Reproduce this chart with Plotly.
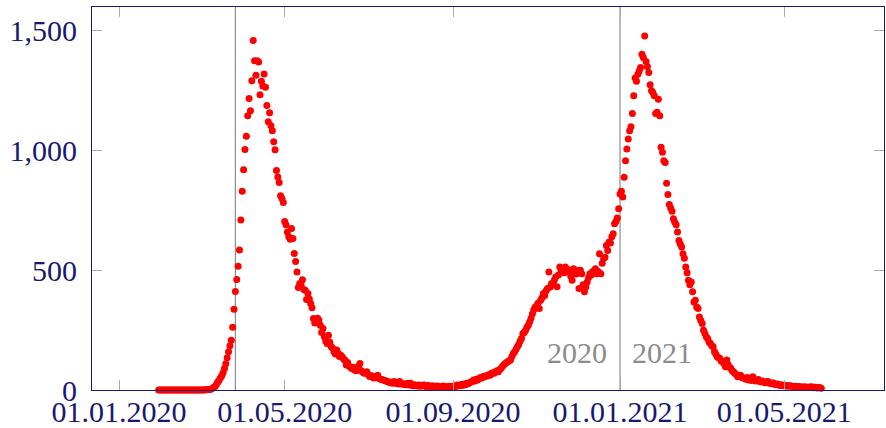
import pandas as pd
import plotly.graph_objects as go

# ---------------- data (daily values) ----------------
start_date = "2020-01-30"

jan_2020 = [0, 0]
feb_2020 = [0] * 29
mar_2020 = [0, 0, 0, 1, 1, 2, 2, 3, 6, 10, 15, 22, 32, 40, 50, 60, 72, 90, 110, 135,
            160, 185, 208, 262, 337, 412, 462, 517, 585, 710, 830]
apr_2020 = [920, 1005, 1060, 1146, 1218, 1167, 1292, 1460, 1375, 1315, 1375, 1370, 1233,
            1290, 1270, 1320, 1265, 1188, 1121, 1158, 1104, 1083, 1037, 1004, 917, 890,
            867, 812, 800, 783]
may_2020 = [704, 690, 660, 640, 630, 675, 633, 570, 537, 493, 428, 445, 440, 461, 420,
            417, 378, 403, 380, 361, 344, 299, 280, 295, 300, 292, 270, 240, 257, 222, 205]
jun_2020 = [194, 229, 200, 181, 175, 160, 150, 167, 155, 140, 145, 139, 130, 125, 104,
            115, 100, 95, 90, 95, 85, 80, 83, 100, 111, 80, 75, 70, 72, 76]
jul_2020 = [65, 56, 60, 58, 50, 55, 52, 62, 48, 45, 44, 42, 40, 38, 35, 33, 30, 32, 28,
            35, 30, 27, 25, 35, 28, 24, 26, 22, 25, 28, 21]
aug_2020 = [28, 20, 18, 22, 19, 17, 21, 16, 18, 20, 21, 15, 17, 19, 14, 16, 18, 15, 13,
            17, 16, 14, 12, 15, 17, 13, 11, 14, 16, 12, 15]
sep_2020 = [14, 17, 15, 21, 18, 20, 23, 19, 25, 22, 28, 26, 30, 33, 36, 42, 38, 45, 42,
            48, 52, 50, 56, 55, 60, 58, 64, 62, 69, 72]
oct_2020 = [70, 75, 80, 76, 85, 90, 98, 104, 110, 115, 118, 122, 125, 140, 152, 160, 170,
            181, 190, 205, 215, 236, 240, 250, 262, 270, 285, 300, 319, 335, 347]
nov_2020 = [350, 362, 340, 375, 385, 403, 395, 415, 424, 493, 430, 445, 440, 460, 472,
            431, 480, 514, 500, 505, 490, 514, 505, 493, 500, 475, 458, 507, 495, 485]
dec_2020 = [500, 424, 500, 486, 440, 410, 430, 451, 470, 486, 480, 495, 490, 507, 486,
            495, 569, 486, 530, 549, 555, 604, 583, 618, 614, 640, 653, 694, 705, 719, 757]
jan_2021 = [819, 830, 806, 889, 958, 1007, 1049, 1083, 1100, 1155, 1229, 1303, 1290, 1319,
            1333, 1347, 1403, 1389, 1479, 1372, 1350, 1326, 1275, 1250, 1243, 1229, 1155,
            1160, 1215, 1146, 1014]
feb_2021 = [993, 958, 950, 864, 817, 775, 760, 747, 715, 701, 690, 660, 625, 610, 597,
            569, 550, 514, 490, 458, 440, 451, 410, 368, 375, 347, 340, 305]
mar_2021 = [290, 278, 250, 236, 222, 215, 201, 194, 185, 181, 160, 150, 139, 135, 132,
            120, 118, 110, 97, 125, 105, 95, 90, 80, 75, 69, 65, 55, 60, 62, 52]
apr_2021 = [50, 49, 45, 52, 42, 46, 40, 55, 43, 38, 41, 44, 36, 34, 38, 32, 30, 34, 35,
            28, 30, 26, 29, 24, 22, 25, 21, 19, 22, 18]
may_2021 = [20, 17, 19, 16, 18, 17, 15, 14, 16, 13, 15, 12, 14, 13, 11, 14, 12, 10, 13,
            11, 14, 9, 12, 10, 8, 11, 9, 7]

values = (jan_2020 + feb_2020 + mar_2020 + apr_2020 + may_2020 + jun_2020 + jul_2020
          + aug_2020 + sep_2020 + oct_2020 + nov_2020 + dec_2020 + jan_2021 + feb_2021
          + mar_2021 + apr_2021 + may_2021)
dates = pd.date_range(start_date, periods=len(values), freq="D")

x_tick_dates = ["2020-01-01", "2020-05-01", "2020-09-01", "2021-01-01", "2021-05-01"]
x_tick_labels = ["01.01.2020", "01.05.2020", "01.09.2020", "01.01.2021", "01.05.2021"]
y_tick_vals = [0, 500, 1000, 1500]
y_tick_labels = ["0", "500", "1,000", "1,500"]

marker_lines = ["2020-03-26", "2021-01-01"]
year_labels = ["2020", "2021"]

# ---------------- figure ----------------
NAVY = "#191970"
GRAY = "#8c8c8c"
FONT = "Liberation Serif"
FS = 30

fig = go.Figure()
fig.add_trace(go.Scatter(
    x=dates, y=values, mode="markers",
    marker=dict(color="#ff0000", size=7, line=dict(width=0)),
    cliponaxis=False, showlegend=False,
))

for d in marker_lines:
    fig.add_shape(type="line", xref="x", yref="paper", x0=d, x1=d, y0=0, y1=1,
                  line=dict(color=GRAY, width=1.2), layer="below")

fig.add_annotation(x=marker_lines[1], y=155, xref="x", yref="y", text=year_labels[0],
                   showarrow=False, xanchor="right", yanchor="middle", xshift=-11,
                   font=dict(family=FONT, size=FS, color=GRAY))
fig.add_annotation(x=marker_lines[1], y=155, xref="x", yref="y", text=year_labels[1],
                   showarrow=False, xanchor="left", yanchor="middle", xshift=10,
                   font=dict(family=FONT, size=FS, color=GRAY))

fig.update_layout(
    width=886, height=428,
    margin=dict(l=92, r=2, t=7, b=38, autoexpand=False),
    paper_bgcolor="white", plot_bgcolor="white",
    font=dict(family=FONT, size=FS, color=NAVY),
)
fig.update_xaxes(
    range=["2019-12-12 06:00", "2021-07-12 20:00"],
    tickvals=x_tick_dates, ticktext=x_tick_labels,
    showgrid=False, zeroline=False,
    showline=True, linecolor=NAVY, linewidth=1, mirror="ticks",
    ticks="inside", ticklen=10, tickcolor="#aaaaaa", tickwidth=1,
    ticklabelstandoff=-5,
    tickfont=dict(family=FONT, size=FS, color=NAVY),
)
fig.update_yaxes(
    range=[0, 1600],
    tickvals=y_tick_vals, ticktext=y_tick_labels,
    showgrid=False, zeroline=False,
    showline=True, linecolor=NAVY, linewidth=1, mirror="ticks",
    ticks="inside", ticklen=10, tickcolor="#aaaaaa", tickwidth=1,
    ticklabelstandoff=8,
    tickfont=dict(family=FONT, size=FS, color=NAVY),
)

fig.write_html("out.html")
